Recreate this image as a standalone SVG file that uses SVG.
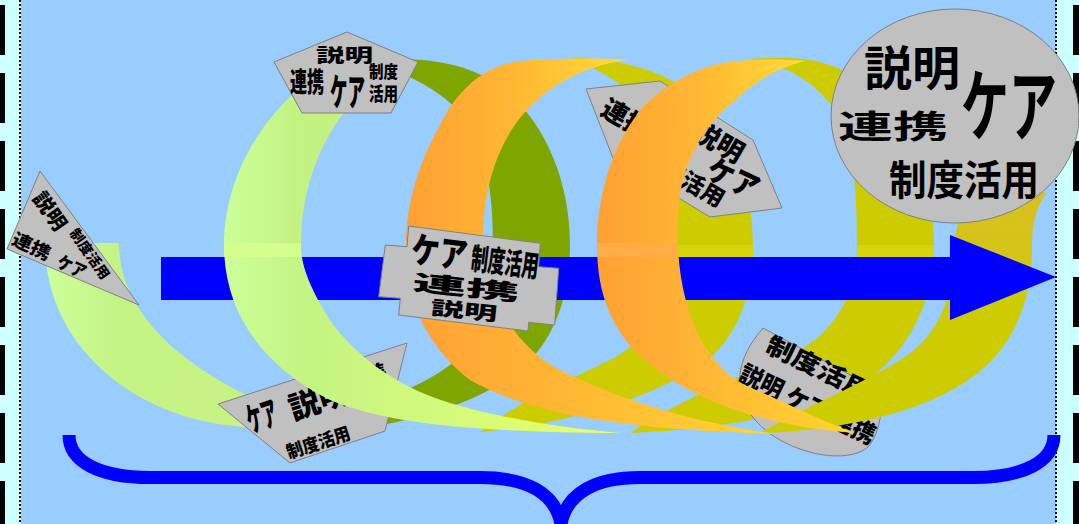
<svg xmlns="http://www.w3.org/2000/svg" width="1079" height="524" viewBox="0 0 1079 524">
<defs>
<linearGradient id="gG0" x1="0" y1="0" x2="1" y2="0"><stop offset="0" stop-color="#CCFF99"/><stop offset="0.25" stop-color="#C4F384"/><stop offset="1" stop-color="#C8F282"/></linearGradient>
<linearGradient id="gGup" x1="0" y1="0" x2="1" y2="0"><stop offset="0" stop-color="#CCFF99"/><stop offset="0.4" stop-color="#C2F282"/><stop offset="1" stop-color="#C6F07F"/></linearGradient>
<linearGradient id="gGlow" x1="0" y1="0" x2="1" y2="0"><stop offset="0" stop-color="#CCFF99"/><stop offset="0.2" stop-color="#C3F383"/><stop offset="0.6" stop-color="#D6FB7A"/><stop offset="1" stop-color="#E8FF60"/></linearGradient>
<linearGradient id="gOup" x1="0" y1="0" x2="1" y2="0"><stop offset="0" stop-color="#FFA033"/><stop offset="0.5" stop-color="#FFB833"/><stop offset="1" stop-color="#FFDD3A"/></linearGradient>
<linearGradient id="gOlow" x1="0" y1="0" x2="1" y2="0"><stop offset="0" stop-color="#FFA033"/><stop offset="0.3" stop-color="#FFB035"/><stop offset="1" stop-color="#FFD633"/></linearGradient>
<linearGradient id="gB4" x1="0" y1="0" x2="0" y2="1"><stop offset="0" stop-color="#D9C01E"/><stop offset="0.3" stop-color="#D4C418"/><stop offset="0.36" stop-color="#CCCC00"/><stop offset="1" stop-color="#CCCC00"/></linearGradient>
</defs>
<style>
.lbl{fill:#C0C0C0;stroke:#808080;stroke-width:1}
.t{font-family:"Noto Sans CJK JP","Noto Sans CJK SC",sans-serif;font-weight:900;fill:#000}
.te{font-family:"Noto Sans CJK JP","Noto Sans CJK SC",sans-serif;font-weight:700;fill:#000}
.olive{fill:#CCCC00}
.dash{stroke:#000;stroke-dasharray:50 18;stroke-dashoffset:63;fill:none}
.dot{stroke:#000;stroke-width:2;stroke-dasharray:2 2;fill:none}
.brace{fill:none;stroke:#0000FF;stroke-width:13}
</style>
<g id="background">
<rect x="0" y="0" width="1079" height="524" fill="#CCFFFF"/>
<rect x="21" y="0" width="1035" height="524" fill="#99CCFF"/>
<line class="dash" x1="2.5" y1="0" x2="2.5" y2="524" stroke-width="5"/>
<line class="dash" x1="1076" y1="0" x2="1076" y2="524" stroke-width="6"/>
<line class="dot" x1="20" y1="0" x2="20" y2="524"/>
<line class="dot" x1="1056" y1="0" x2="1056" y2="524"/>
</g>
<g id="spiral-back">
<path id="back1" fill="#7FA600" d="M300,432 C380,432 470,410 520,370 C555,340 570,295 570,245 C570,175 540,110 490,80 C460,62 420,56 360,60 C410,72 450,95 470,125 C487,155 493,195 493,245 C493,300 480,340 450,365 C410,395 350,410 300,432 Z"/>
<path id="back2" class="olive" d="M480,432 C560,425 650,400 705,362 C740,335 753,290 753,245 C753,170 720,100 660,75 C635,64 600,58 572,58 C600,70 635,90 652,115 C668,145 676,190 676,245 C676,300 650,340 610,360 C570,380 520,400 480,432 Z"/>
<path id="back3" class="olive" d="M630,433 C700,430 780,420 840,395 C900,370 934,310 934,245 C934,150 880,60 790,58 C770,58 760,58 750,59 C790,64 830,90 845,130 C855,165 857,200 857,245 C857,300 830,340 780,360 C730,380 680,400 630,433 Z"/>
<rect x="677" y="245" width="76" height="12" fill="#D6D40A"/>
<rect x="857" y="245" width="77" height="12" fill="#D6D40A"/>
</g>
<g id="node-br">
<path class="lbl" d="M763,328 L882,392 C882,418 878,435 868,447 C850,462 810,457 780,440 C752,424 737,400 740,374 C742,358 750,343 763,328 Z"/>
<text class="t" transform="translate(764,351) rotate(26)" font-size="24" textLength="114" lengthAdjust="spacingAndGlyphs">制度活用</text>
<text class="t" transform="translate(737,380) rotate(26)" font-size="25" textLength="148" lengthAdjust="spacingAndGlyphs">説明 ケア 連携</text>
</g>
<g id="spiral-back4">
<path id="back4" fill="url(#gB4)" d="M760,433 C850,430 930,410 975,375 C1015,345 1032,300 1032,245 C1032,225 1036,205 1047,193 L990,180 C970,195 955,218 955,245 C955,300 935,340 900,360 C860,385 810,405 760,433 Z"/>
</g>
<g id="spiral-start">
<path id="front0" fill="url(#gG0)" d="M45,243 L119,243 C119,300 160,350 240,392 C275,408 305,420 345,430 C300,433 265,430 235,426 C140,418 45,350 45,243 Z"/>
</g>
<g id="node-bottom">
<path class="lbl" d="M218,404 L407,343 L385,431 L290,463 Z"/>
<text class="t" transform="translate(251,433) rotate(-18)" font-size="34" textLength="31" lengthAdjust="spacingAndGlyphs">ケア</text>
<text class="t" transform="translate(293,420) rotate(-18)" font-size="31" textLength="62" lengthAdjust="spacingAndGlyphs">説明</text>
<text class="t" transform="translate(344,395) rotate(-18)" font-size="24" textLength="48" lengthAdjust="spacingAndGlyphs">連携</text>
<text class="t" transform="translate(289,459) rotate(-18)" font-size="18" textLength="66" lengthAdjust="spacingAndGlyphs">制度活用</text>
</g>
<g id="connectors">
<polygon id="arrow" fill="#0000FF" points="161,257 950,257 950,235 1056,277 950,320 950,300 161,300"/>
<path class="brace" d="M69,435 C69,462 100,477.5 150,477.5 L480,477.5 C525,477.5 555,492 561,524"/>
<path class="brace" d="M1054,435 C1054,462 1023,477.5 973,477.5 L640,477.5 C597,477.5 567,492 561,524"/>
</g>
<g id="node-tilted">
<polygon class="lbl" points="586,89 660,81 753,140 782,208 710,217 613,158"/>
<text class="t" transform="translate(599,114) rotate(30)" font-size="26" textLength="52" lengthAdjust="spacingAndGlyphs">連携</text>
<text class="t" transform="translate(690,137) rotate(30)" font-size="27" textLength="54" lengthAdjust="spacingAndGlyphs">説明</text>
<text class="t" transform="translate(704,177) rotate(25)" font-size="30" textLength="54" lengthAdjust="spacingAndGlyphs">ケア</text>
<text class="t" transform="translate(639,162) rotate(30)" font-size="23" textLength="92" lengthAdjust="spacingAndGlyphs">制度活用</text>
</g>
<g id="spiral-front">
<path id="front1-up" fill="url(#gGup)" d="M405,57 C360,58 320,72 290,97 C250,135 224,190 224,245 L301,245 C301,190 320,140 350,105 C368,85 385,70 405,57 Z"/>
<path id="front1-low" fill="url(#gGlow)" d="M224,245 C224,310 260,365 330,400 C390,425 480,432 620,433 C560,428 500,418 450,403 C390,385 340,345 318,300 C305,275 301,260 301,245 Z"/>
<rect x="224" y="243" width="77" height="14" fill="#D4FF8E"/>
<path id="front2-up" fill="url(#gOup)" d="M628,60 C600,58 560,58 520,61 C480,66 455,95 440,125 C415,170 406,210 406,245 L483,245 C482,195 495,150 520,118 C545,88 580,66 628,60 Z"/>
<path id="front2-low" fill="url(#gOlow)" d="M406,245 C406,300 425,345 470,380 C540,420 650,430 780,434 C700,425 620,400 560,370 C520,350 485,300 483,245 Z"/>
<path id="front3-up" fill="url(#gOup)" d="M805,61 C780,59 760,59 737,61 C700,64 665,85 643,107 C615,140 597,190 597,245 L678,245 C677,230 678,210 680,195 C685,160 705,125 730,105 C750,85 775,68 805,61 Z"/>
<path id="front3-low" fill="url(#gOlow)" d="M597,245 C597,300 615,340 660,372 C710,408 780,428 855,433 C815,418 780,400 745,385 C705,365 680,310 678,245 Z"/>
<rect x="597" y="243" width="81" height="14" fill="#FFAC45"/>
</g>
<g id="node-center">
<polygon class="lbl" points="408.7,226 540.3,243.3 538.7,266.7 558.7,268.3 554.7,325 528.7,322.3 528,331 398.7,315 400.3,298.3 378.7,296.7 385.3,245 407,246.7"/>
<text class="t" transform="translate(410,262) rotate(7)" font-size="36" textLength="56" lengthAdjust="spacingAndGlyphs">ケア</text>
<text class="t" transform="translate(470,269) rotate(7)" font-size="30" textLength="68" lengthAdjust="spacingAndGlyphs">制度活用</text>
<text class="t" transform="translate(412,290) rotate(6)" font-size="22" textLength="107" lengthAdjust="spacingAndGlyphs">連携</text>
<text class="t" transform="translate(430,314) rotate(6)" font-size="19" textLength="67" lengthAdjust="spacingAndGlyphs">説明</text>
</g>
<g id="node-top">
<polygon class="lbl" points="347,32 418,62 391,113 302,113 274,62"/>
<text class="t" x="316" y="62" font-size="18" textLength="57" lengthAdjust="spacingAndGlyphs">説明</text>
<text class="t" x="290" y="92" font-size="27" textLength="34" lengthAdjust="spacingAndGlyphs">連携</text>
<text class="t" x="330" y="106" font-size="37" textLength="35" lengthAdjust="spacingAndGlyphs">ケア</text>
<text class="t" x="369" y="78" font-size="17" textLength="29" lengthAdjust="spacingAndGlyphs">制度</text>
<text class="t" x="369" y="101" font-size="19" textLength="29" lengthAdjust="spacingAndGlyphs">活用</text>
</g>
<g id="node-left">
<polygon class="lbl" points="40,171 7,249 139,305"/>
<text class="t" transform="translate(32,198) rotate(55)" font-size="20" textLength="42" lengthAdjust="spacingAndGlyphs">説明</text>
<text class="t" transform="translate(69,233) rotate(55)" font-size="14" textLength="58" lengthAdjust="spacingAndGlyphs">制度活用</text>
<text class="t" transform="translate(10.5,243.7) rotate(25)" font-size="18" textLength="40" lengthAdjust="spacingAndGlyphs">連携</text>
<text class="t" transform="translate(55.5,266.4) rotate(25)" font-size="18" textLength="30" lengthAdjust="spacingAndGlyphs">ケア</text>
</g>
<g id="node-main">
<ellipse class="lbl" cx="955" cy="116" rx="124" ry="107"/>
<text class="te" x="864" y="85" font-size="47" textLength="96" lengthAdjust="spacingAndGlyphs">説明</text>
<text class="te" x="961" y="135" font-size="78" textLength="96" lengthAdjust="spacingAndGlyphs">ケア</text>
<text class="te" x="838" y="138" font-size="32" textLength="110" lengthAdjust="spacingAndGlyphs">連携</text>
<text class="te" x="889" y="195" font-size="41" textLength="150" lengthAdjust="spacingAndGlyphs">制度活用</text>
</g>
</svg>
